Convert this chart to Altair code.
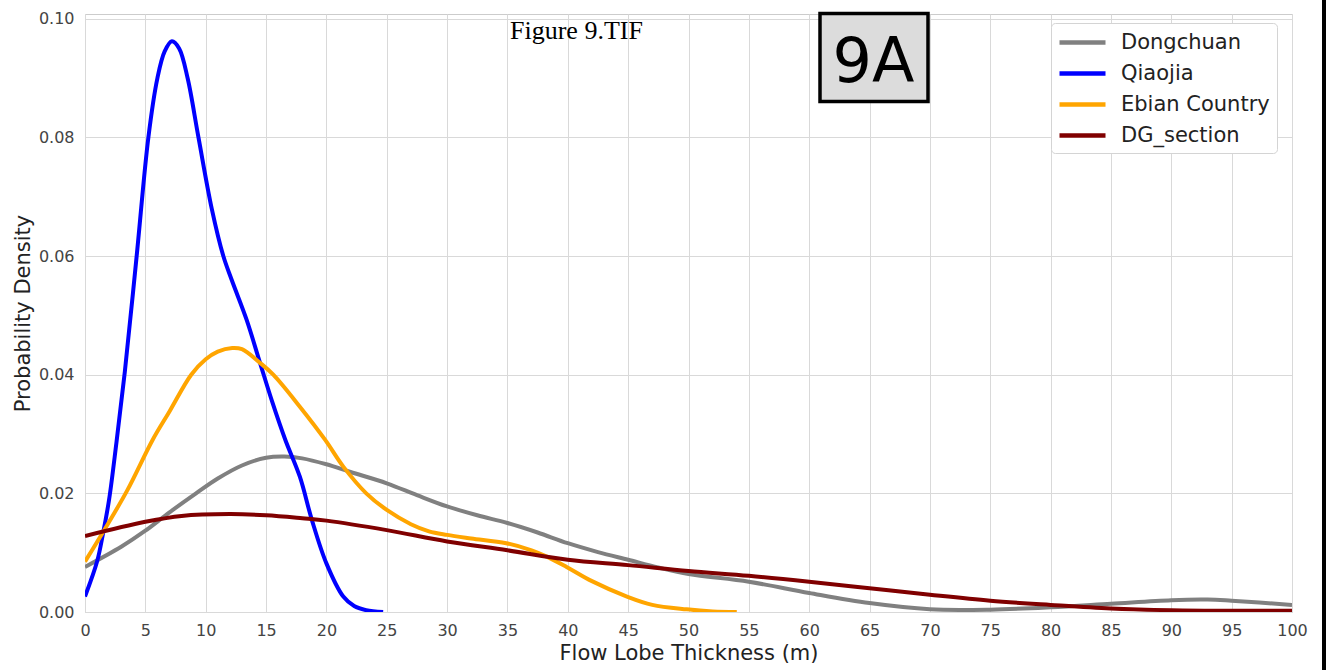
import altair as alt
import pandas as pd

# Kernel density curves of flow lobe thickness for each site
series_names = ["Dongchuan", "Qiaojia", "Ebian Country", "DG_section"]
series_colors = ["#808080", "#0000ff", "#ffa500", "#800000"]

dongchuan_x = [0, 3, 5, 7, 9.2, 11, 13, 15, 16.5, 18, 20, 22, 25, 27.5, 30, 32.5, 35,
               37.5, 40, 42.5, 45, 47.5, 50, 55, 60, 65, 70, 75, 80, 85, 90, 93, 95, 100]
dongchuan_y = [0.0076, 0.0110, 0.0137, 0.0168, 0.0200, 0.0225, 0.0247, 0.0260, 0.0262,
               0.0259, 0.0249, 0.0236, 0.0217, 0.0197, 0.0178, 0.0163, 0.0150, 0.0134,
               0.0116, 0.0101, 0.0088, 0.0075, 0.0064, 0.0051, 0.0032, 0.0015, 0.00045,
               0.0004, 0.0008, 0.0014, 0.0020, 0.0021, 0.0019, 0.0012]

qiaojia_x = [0, 1, 1.5, 2, 2.6, 3.3, 4.28, 5.25, 6, 6.6, 7.2, 7.8, 8.5, 9.4, 10.5, 11.46,
             12.15, 13.4, 14.5, 15.5, 16.6, 17.8, 18.8, 20, 21.4, 22.3, 23.3, 24.7]
qiaojia_y = [0.0026, 0.0085, 0.0133, 0.0190, 0.0285, 0.0405, 0.0600, 0.0800, 0.0900,
             0.0945, 0.0962, 0.0950, 0.0900, 0.0800, 0.0680, 0.0600, 0.0560, 0.0492,
             0.0420, 0.0355, 0.0290, 0.0228, 0.0155, 0.0082, 0.0026, 0.0010, 0.0003, 0.0]

ebian_x = [0, 1.5, 3.5, 5.6, 7, 8.8, 10, 11, 12.2, 13, 14.5, 15.6, 17.8, 19.9, 21.4, 23.3,
           25, 27, 28.5, 30, 32, 34.9, 37, 38.3, 39.9, 42, 44.9, 47, 49.85, 52, 54]
ebian_y = [0.0085, 0.0135, 0.0205, 0.0290, 0.0338, 0.0400, 0.0426, 0.0439, 0.0445, 0.0443,
           0.0420, 0.0400, 0.0346, 0.0290, 0.0245, 0.0200, 0.0172, 0.0148, 0.0136, 0.0130,
           0.0124, 0.0116, 0.0104, 0.0093, 0.0076, 0.0052, 0.0026, 0.0012, 0.00045, 0.0001, 0.0]

dg_x = [0, 5, 8, 12, 15, 18, 20, 25, 30, 35, 40, 45, 50, 55, 60, 65, 70, 75, 80, 85, 90, 95, 100]
dg_y = [0.0128, 0.0152, 0.0162, 0.0165, 0.0163, 0.0158, 0.0154, 0.0138, 0.0119, 0.0104,
        0.0088, 0.0079, 0.0069, 0.0061, 0.0051, 0.0040, 0.0029, 0.0019, 0.0012, 0.0006,
        0.0003, 0.0002, 0.0002]

x_ticks = list(range(0, 101, 5))
y_ticks = [0.0, 0.02, 0.04, 0.06, 0.08, 0.10]

frames = []
for name, xs, ys in [
    ("Dongchuan", dongchuan_x, dongchuan_y),
    ("Qiaojia", qiaojia_x, qiaojia_y),
    ("Ebian Country", ebian_x, ebian_y),
    ("DG_section", dg_x, dg_y),
]:
    frames.append(pd.DataFrame({"thickness": xs, "density": ys, "site": name}))
df = pd.concat(frames, ignore_index=True)

lines = alt.Chart(df).mark_line(strokeWidth=4, interpolate="catmull-rom", clip=True).encode(
    x=alt.X(
        "thickness:Q",
        scale=alt.Scale(domain=[0, 100], nice=False),
        axis=alt.Axis(
            values=x_ticks,
            title="Flow Lobe Thickness (m)",
            labelPadding=10,
            labelFlush=False,
            titlePadding=4,
        ),
    ),
    y=alt.Y(
        "density:Q",
        scale=alt.Scale(domain=[0, 0.1008], nice=False),
        axis=alt.Axis(
            values=y_ticks,
            format=".2f",
            title="Probability Density",
            labelPadding=11,
            labelFlush=False,
            titlePadding=5,
        ),
    ),
    color=alt.Color(
        "site:N",
        scale=alt.Scale(domain=series_names, range=series_colors),
        legend=alt.Legend(
            title=None,
            orient="none",
            legendX=966,
            legendY=9,
            symbolType="M-1.1,0L3.5,0",
            symbolSize=400,
            symbolStrokeWidth=4.5,
            labelFontSize=21,
            labelFont="DejaVu Sans",
            labelColor="#222222",
            labelOffset=38,
            padding=7,
            rowPadding=8,
            fillColor="white",
            strokeColor="#d4d4d4",
            cornerRadius=4,
        ),
    ),
    order=alt.Order("thickness:Q"),
)

one_row = alt.Data(values=[{}])

caption = alt.Chart(one_row).mark_text(
    text="Figure 9.TIF", font="Liberation Serif", fontSize=26, color="black",
    align="left", baseline="alphabetic",
).encode(x=alt.value(425), y=alt.value(25))

panel_box = alt.Chart(one_row).mark_rect(
    fill="#dcdcdc", stroke="black", strokeWidth=3.5,
).encode(x=alt.value(735), x2=alt.value(843), y=alt.value(-0.5), y2=alt.value(87.5))

panel_label = alt.Chart(one_row).mark_text(
    text="9A", font="DejaVu Sans", fontSize=62, color="black",
    align="center", baseline="alphabetic",
).encode(x=alt.value(788.5), y=alt.value(67.7))

edge_bar = alt.Chart(one_row).mark_rule(color="black", strokeWidth=4).encode(
    x=alt.value(1239), y=alt.value(-14), y2=alt.value(656)
)

chart = (
    alt.layer(lines, caption, panel_box, panel_label, edge_bar)
    .properties(
        width=1207,
        height=598,
        autosize=alt.AutoSizeParams(type="none"),
        padding={"left": 85, "top": 14, "right": 34, "bottom": 58},
        background="white",
    )
    .configure_view(stroke="#cccccc", strokeWidth=1)
    .configure_axis(
        grid=True,
        gridColor="#d9d9d9",
        gridWidth=1,
        domain=False,
        ticks=False,
        labelFont="DejaVu Sans",
        labelFontSize=16,
        labelColor="#444444",
        titleFont="DejaVu Sans",
        titleFontSize=21,
        titleFontWeight="normal",
        titleColor="#222222",
    )
)

chart.save("out.html", embed_options={"renderer": "svg", "actions": False})
